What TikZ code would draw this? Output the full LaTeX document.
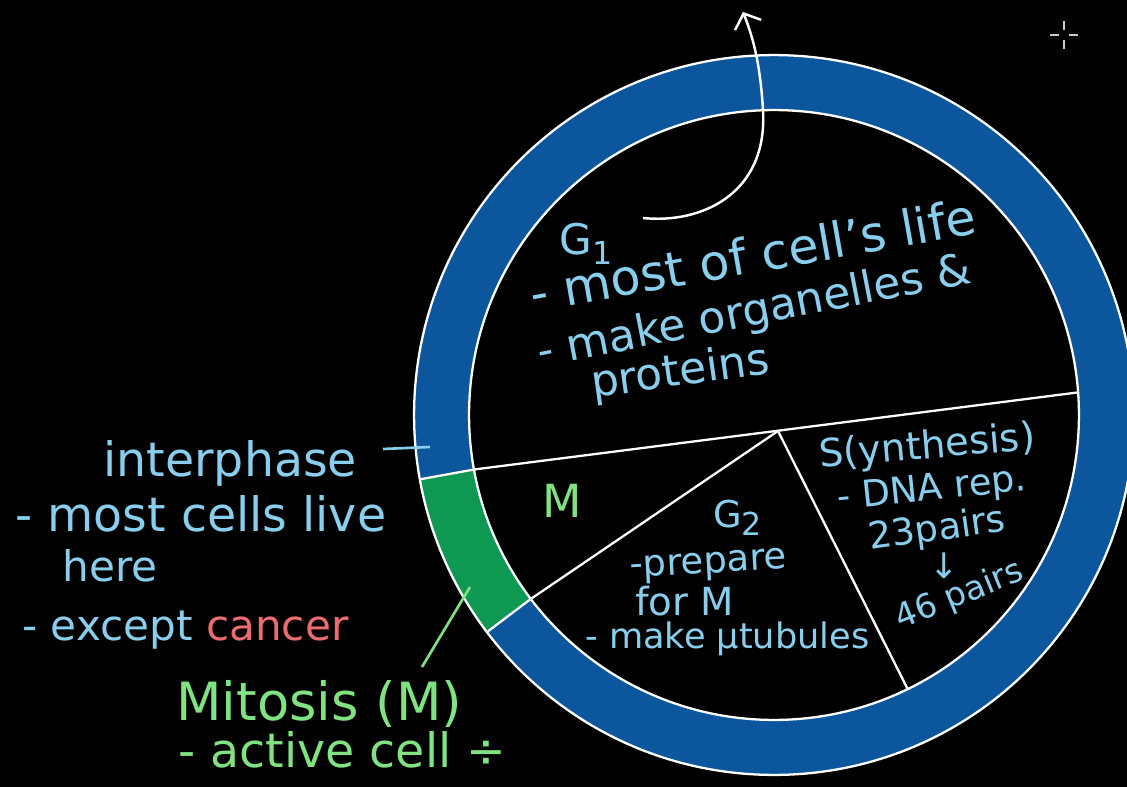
\documentclass[tikz,border=0pt]{standalone}
\usepackage{fontspec}
\setmainfont{DejaVu Sans}
\usetikzlibrary{positioning, arrows.meta, calc}
\definecolor{ringblue}{RGB}{12,86,158}
\definecolor{bandgreen}{RGB}{14,152,82}
\definecolor{noteblue}{RGB}{138,206,238}
\definecolor{notegreen}{RGB}{128,226,128}
\definecolor{notered}{RGB}{236,108,112}
\newcommand{\lowidx}[1]{\raisebox{-0.4ex}{\fontsize{18}{20}\selectfont #1}}

\begin{document}
\begin{tikzpicture}[x=0.02cm, y=-0.02cm,
  edge/.style={draw=white, line width=1.3pt},
  note/.style={text=noteblue, inner sep=0pt, anchor=base west},
  fs/.style={font=\fontsize{#1}{#1}\selectfont},
  mnote/.style={note, text=notegreen}]

\fill[black] (0,0) rectangle (1127,787);
\useasboundingbox (0,0) rectangle (1127,787);

% ring of the cycle
\coordinate (c) at (774,415);
\fill[ringblue, even odd rule] (c) circle (7.2cm) (c) circle (6.1cm);
\fill[bandgreen] ($(c)+(190.3:6.1cm)$) arc[start angle=190.3, end angle=217.1, radius=6.1cm]
  -- ($(c)+(217.1:7.2cm)$) arc[start angle=217.1, end angle=190.3, radius=7.2cm] -- cycle;
\draw[edge] (c) circle (7.2cm) (c) circle (6.1cm);

% phase boundaries
\coordinate (hub) at (778,431);
\coordinate (gR) at ($(c)+(4.25:6.1cm)$);
\coordinate (gL) at ($(c)+(190.3:6.1cm)$);
\coordinate (gLo) at ($(c)+(190.3:7.2cm)$);
\coordinate (sL) at ($(c)+(217.1:6.1cm)$);
\coordinate (sLo) at ($(c)+(217.1:7.2cm)$);
\coordinate (sR) at ($(c)+(296:6.1cm)$);
\draw[edge] (gR) -- (gL) -- (gLo);
\draw[edge] (hub) -- (sL) -- (sLo);
\draw[edge] (hub) -- (sR);

% G1
\node[note, fs=24] (g1) at (559,255) {G\lowidx{1}};
\node[note, fs=28, rotate=10] (g1a) at (533,312) {- most of cell's life};
\node[note, fs=25, rotate=11] (g1b) at (540,367) {- make organelles \&};
\node[note, fs=25, rotate=8] (g1c) at (593,398) {proteins};

% loop arrow out of G1
\coordinate (loopstart) at (643,218);
\coordinate (looptip) at (743,12);
\draw[white, line width=1.4pt, -{Straight Barb[length=7pt,width=16pt]}]
  (loopstart) .. controls (700,224) and (768,195) .. (763,110)
  .. controls (760,60) and (752,35) .. (looptip);

% S
\node[note, fs=22, rotate=5] (s1) at (820,468) {S(ynthesis)};
\node[note, fs=21, rotate=6] (s2) at (838,510) {- DNA rep.};
\node[note, fs=21, rotate=8] (s3) at (870,550) {23pairs};
\node[note, fs=20, anchor=center] (s4) at (944,566) {↓};
\node[note, fs=19, rotate=22] (s5) at (900,630) {46 pairs};

% G2
\node[note, fs=21] (g2) at (713,527) {G\lowidx{2}};
\node[note, fs=21, rotate=3] (g2a) at (630,577) {-prepare};
\node[note, fs=22] (g2b) at (635,615) {for M};
\node[note, fs=20] (g2c) at (585,648) {- make μtubules};

% M
\node[mnote, fs=26, anchor=base] (m) at (562,518) {M};

% interphase notes
\node[note, fs=27] (ip) at (103,477) {interphase};
\coordinate (ipa) at (383,449);
\coordinate (ipb) at (430,447);
\draw[noteblue, line width=1.5pt] (ipa) -- (ipb);
\node[note, fs=27] (ip1) at (15,532) {- most cells live};
\node[note, fs=24] (ip2) at (62,582) {here};
\node[note, fs=24] (ip3) at (22,640) {- except \textcolor{notered}{cancer}};

% mitosis notes
\node[mnote, fs=30] (mt) at (176,720) {Mitosis (M)};
\node[mnote, fs=27] (mt1) at (178,767) {- active cell ÷};
\coordinate (mtail) at (422,667);
\coordinate (mhead) at (470,587);
\draw[notegreen, line width=1.5pt] (mtail) -- (mhead);

% cursor
\coordinate (cursor) at (1064,35);
\draw[white!80!black, line width=0.8pt]
  ($(cursor)+(-14,0)$) -- ($(cursor)+(-5,0)$)
  ($(cursor)+(5,0)$) -- ($(cursor)+(14,0)$)
  ($(cursor)+(0,-14)$) -- ($(cursor)+(0,-5)$)
  ($(cursor)+(0,5)$) -- ($(cursor)+(0,14)$);
\end{tikzpicture}
\end{document}
